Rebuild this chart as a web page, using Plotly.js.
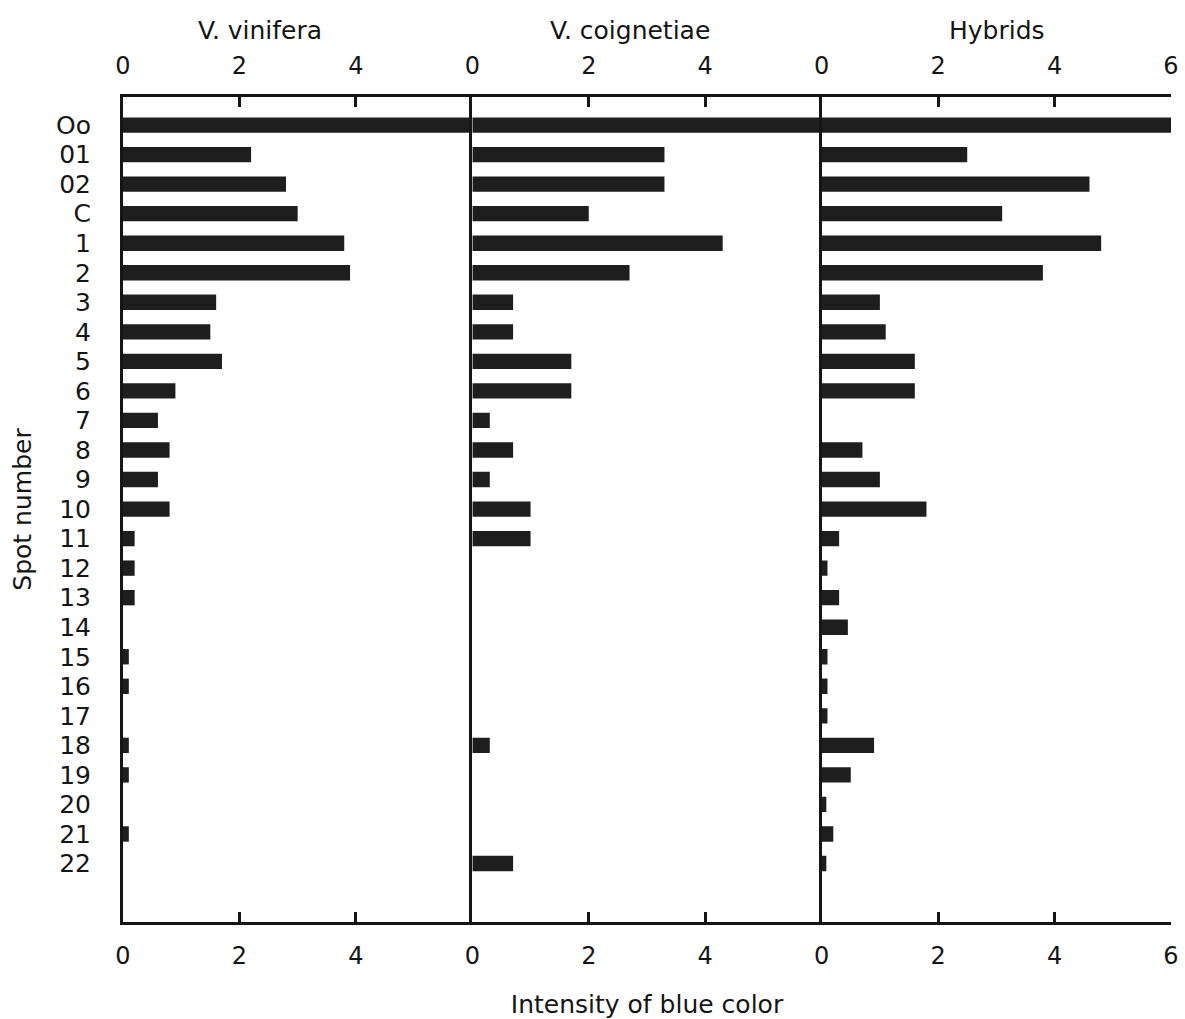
<!DOCTYPE html>
<html>
<head>
<meta charset="utf-8">
<script src="https://cdn.plot.ly/plotly-3.0.1.min.js"></script>
<style>html,body{margin:0;padding:0;background:#fff;}#chart{width:1185px;height:1019px;}</style>
</head>
<body>
<div id="chart"></div>
<script>
// Spot numbers (rows, top to bottom)
const spots = ["Oo","01","02","C","1","2","3","4","5","6","7","8","9","10","11","12","13","14","15","16","17","18","19","20","21","22"];
// Intensity of blue color per group
const vinifera    = [6.0,2.2,2.8,3.0,3.8,3.9,1.6,1.5,1.7,0.9,0.6,0.8,0.6,0.8,0.2,0.2,0.2,0,0.1,0.1,0,0.1,0.1,0,0.1,0];
const coignetiae  = [6.0,3.3,3.3,2.0,4.3,2.7,0.7,0.7,1.7,1.7,0.3,0.7,0.3,1.0,1.0,0,0,0,0,0,0,0.3,0,0,0,0.7];
const hybrids     = [6.0,2.5,4.6,3.1,4.8,3.8,1.0,1.1,1.6,1.6,0,0.7,1.0,1.8,0.3,0.1,0.3,0.45,0.1,0.1,0.1,0.9,0.5,0.08,0.2,0.08];
const groupNames  = ["V. vinifera","V. coignetiae","Hybrids"];
const tickPanels12 = [0,2,4];
const tickPanel3   = [0,2,4,6];

const FONT = "DejaVu Sans, Liberation Sans, sans-serif";
const INK = "#151515";
const series = [vinifera, coignetiae, hybrids];

const traces = [];
series.forEach((vals, i) => {
  const xa = i === 0 ? "x" : "x" + (i + 1);
  const ya = i === 0 ? "y" : "y" + (i + 1);
  traces.push({
    type: "bar", orientation: "h", y: spots, x: vals,
    xaxis: xa, yaxis: ya, width: 0.52,
    marker: {color: "#1e1e1e", line: {width: 0}},
    showlegend: false, hoverinfo: "x+y"
  });
  // transparent copy to carry the top tick axis
  traces.push({
    type: "bar", orientation: "h", y: spots, x: vals,
    xaxis: "x" + (i + 4), yaxis: ya, width: 0.52,
    marker: {color: "rgba(0,0,0,0)"}, showlegend: false, hoverinfo: "skip"
  });
});

function xBase(domain, ticks, extra) {
  return Object.assign({
    domain: domain, range: [0, 6], autorange: false, fixedrange: true,
    tickmode: "array", tickvals: ticks, ticktext: ticks.map(String),
    showline: true, linewidth: 3, linecolor: INK,
    ticks: "inside", ticklen: 10, tickwidth: 3, tickcolor: INK,
    showgrid: false, zeroline: false,
    tickfont: {family: FONT, size: 24, color: INK},
    ticklabelstandoff: 10
  }, extra || {});
}
const d1 = [0, 1/3], d2 = [1/3, 2/3], d3 = [2/3, 1];
const yRange = [26.98, -0.95];
function yBase(extra) {
  return Object.assign({
    type: "category", range: yRange, autorange: false, fixedrange: true,
    tickmode: "array", tickvals: spots, ticktext: spots,
    showline: true, linewidth: 3, linecolor: INK,
    ticks: "", showgrid: false, zeroline: false
  }, extra || {});
}

const layout = {
  width: 1185, height: 1019,
  margin: {l: 123, r: 14, t: 97, b: 97},
  paper_bgcolor: "#ffffff", plot_bgcolor: "rgba(0,0,0,0)",
  bargap: 0.5,
  font: {family: FONT, color: INK},
  xaxis:  xBase(d1, tickPanels12, {anchor: "y"}),
  xaxis2: xBase(d2, tickPanels12, {anchor: "y2",
            title: {text: "Intensity of blue color", font: {family: FONT, size: 25, color: INK}, standoff: 30}}),
  xaxis3: xBase(d3, tickPanel3, {anchor: "y3"}),
  xaxis4: xBase(d1, tickPanels12, {overlaying: "x", side: "top", anchor: "y"}),
  xaxis5: xBase(d2, tickPanels12, {overlaying: "x2", side: "top", anchor: "y2"}),
  xaxis6: xBase(d3, tickPanel3, {overlaying: "x3", side: "top", anchor: "y3"}),
  yaxis:  yBase({anchor: "x", showticklabels: true,
            tickfont: {family: FONT, size: 25, color: INK}, ticklabelstandoff: 24,
            title: {text: "Spot number", font: {family: FONT, size: 25, color: INK}, standoff: 18}}),
  yaxis2: yBase({anchor: "x2", matches: "y", showticklabels: false}),
  yaxis3: yBase({anchor: "x3", matches: "y", showticklabels: false}),
  annotations: [
    {text: groupNames[0], x: 0.131, y: 1.081},
    {text: groupNames[1], x: 0.484, y: 1.081},
    {text: groupNames[2], x: 0.834, y: 1.081}
  ].map(a => Object.assign(a, {xref: "paper", yref: "paper", xanchor: "center", yanchor: "middle",
        showarrow: false, font: {family: FONT, size: 25, color: INK}}))
};

Plotly.newPlot("chart", traces, layout, {displayModeBar: false, staticPlot: true});
</script>
</body>
</html>
